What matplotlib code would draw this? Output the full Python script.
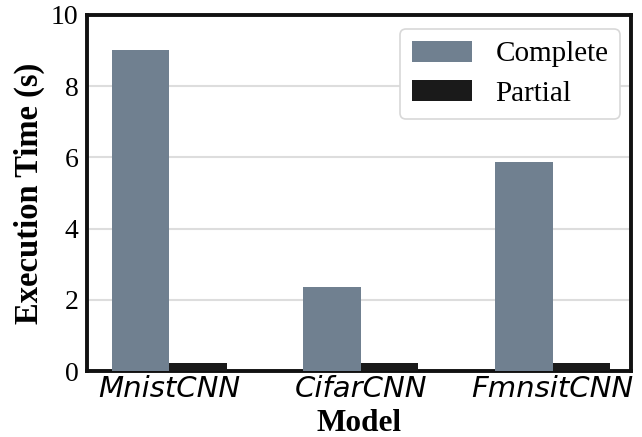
import matplotlib
matplotlib.use('Agg')
import matplotlib.pyplot as plt
import numpy as np

# data
models = ['MnistCNN', 'CifarCNN', 'FmnsitCNN']
complete = [9.0, 2.35, 5.87]
partial = [0.22, 0.22, 0.22]

plt.rcParams['font.family'] = ['Liberation Serif', 'DejaVu Serif']

fig = plt.figure(figsize=(6.42, 4.37), dpi=100)
ax = fig.add_axes([0.1355, 0.151, 0.8475, 0.815])

x = np.arange(len(models))
w = 0.3
ax.bar(x - w / 2, complete, w, color='#708090', label='Complete', zorder=3)
ax.bar(x + w / 2, partial, w, color='#1a1a1a', label='Partial', zorder=3)

ax.set_ylim(0, 10)
ax.set_xlim(-0.43, 2.41)
ax.set_xticks(x)
ax.set_xticklabels(models, family='DejaVu Sans', style='italic', fontsize=21)
ax.set_yticks([0, 2, 4, 6, 8, 10])
ax.tick_params(axis='y', labelsize=20, length=0, pad=6)
ax.tick_params(axis='x', length=0, pad=3)
ax.yaxis.grid(True, color='#dddddd', linewidth=1.5, zorder=0)
ax.set_axisbelow(True)

for s in ax.spines.values():
    s.set_linewidth(2.8)
    s.set_color('#111111')

ax.set_xlabel('Model', fontsize=22.5, fontweight='bold', labelpad=4)
ax.set_ylabel('Execution Time (s)', fontsize=23.5, fontweight='bold', labelpad=4)

leg = ax.legend(loc='upper right', fontsize=21, handlelength=2.05, handleheight=0.72,
                handletextpad=0.82, borderpad=0.4, labelspacing=0.45, framealpha=1.0,
                borderaxespad=0, bbox_to_anchor=(0.98, 0.96))
leg.get_frame().set_edgecolor('#d8d8d8')
leg.get_frame().set_linewidth(1.2)

fig.savefig('out.png', dpi=100)
